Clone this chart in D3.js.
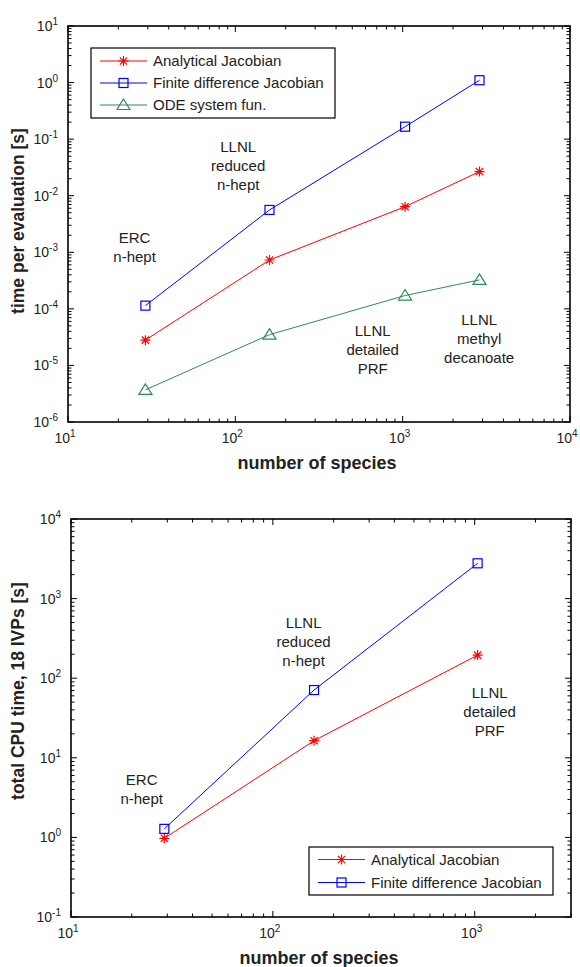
<!DOCTYPE html>
<html>
<head>
<meta charset="utf-8">
<script src="https://cdn.jsdelivr.net/npm/d3@7"></script>
<style>
  body { margin: 0; background: #fff; }
  svg text { font-family: "Liberation Sans", Arial, sans-serif; fill: #222; }
</style>
</head>
<body>
<div id="chart"></div>
<script>
// ---- data ----
const speciesTop = [29, 160, 1034, 2878]
const analyticalTop = [2.8e-5, 7.3e-4, 6.4e-3, 2.67e-2]
const finiteDiffTop = [1.14e-4, 5.6e-3, 0.166, 1.1]
const odeFunTop = [3.7e-6, 3.5e-5, 1.72e-4, 3.25e-4]

const speciesBottom = [29, 160, 1034]
const analyticalBottom = [0.975, 16.4, 195]
const finiteDiffBottom = [1.28, 71, 2775]

const seriesNames = ['Analytical Jacobian', 'Finite difference Jacobian', 'ODE system fun.']

// mechanism labels, anchored in data space (x species, y of first line)
const notesTop = [
    {lines: ['ERC', 'n-hept'], x: 25, y: 1.8e-3},
    {lines: ['LLNL', 'reduced', 'n-hept'], x: 104, y: 0.074},
    {lines: ['LLNL', 'detailed', 'PRF'], x: 662, y: 4.0e-5},
    {lines: ['LLNL', 'methyl', 'decanoate'], x: 2865, y: 6.4e-5}
]
const notesBottom = [
    {lines: ['ERC', 'n-hept'], x: 22.4, y: 5.3},
    {lines: ['LLNL', 'reduced', 'n-hept'], x: 142, y: 498},
    {lines: ['LLNL', 'detailed', 'PRF'], x: 1186, y: 64.6}
]

const colors = {analytical: '#ff0000', finite: '#0000ff', ode: '#2e8b57'}

const svg = d3.select('#chart').append('svg')
    .attr('width', 580)
    .attr('height', 967)

function drawMarker(g, type, x, y, color) {
    if (type === 'star') {
        const r = 5
        const d = 3.6
        g.append('path')
            .attr('d', `M${x - r},${y}L${x + r},${y}M${x},${y - r}L${x},${y + r}` +
                `M${x - d},${y - d}L${x + d},${y + d}M${x - d},${y + d}L${x + d},${y - d}`)
            .attr('stroke', color).attr('stroke-width', 1.2).attr('fill', 'none')
    } else if (type === 'square') {
        g.append('rect')
            .attr('x', x - 4.5).attr('y', y - 4.5)
            .attr('width', 9).attr('height', 9)
            .attr('stroke', color).attr('stroke-width', 1.2).attr('fill', 'none')
    } else {
        g.append('path')
            .attr('d', `M${x},${y - 6}L${x + 6.5},${y + 4.5}L${x - 6.5},${y + 4.5}Z`)
            .attr('stroke', color).attr('stroke-width', 1.2).attr('fill', 'none')
    }
}

function powLabel(sel, exp) {
    sel.append('tspan').text('10')
    sel.append('tspan').attr('dy', -6).attr('font-size', 10).text(exp)
}

function drawPanel(cfg) {
    const x = d3.scaleLog().domain(cfg.xDomain).range([cfg.left, cfg.right])
    const y = d3.scaleLog().domain(cfg.yDomain).range([cfg.bottom, cfg.top])
    const g = svg.append('g')

    // minor / major ticks on all four sides, pointing inward
    const xTicks = x.ticks().filter(v => v >= cfg.xDomain[0] && v <= cfg.xDomain[1])
    xTicks.forEach(v => {
        const major = Math.abs(Math.log10(v) - Math.round(Math.log10(v))) < 1e-9
        const len = major ? 6 : 3.5
        const px = x(v)
        g.append('line').attr('x1', px).attr('x2', px).attr('y1', cfg.bottom).attr('y2', cfg.bottom - len)
            .attr('stroke', '#000')
        g.append('line').attr('x1', px).attr('x2', px).attr('y1', cfg.top).attr('y2', cfg.top + len)
            .attr('stroke', '#000')
        if (major) {
            const t = g.append('text')
                .attr('x', px - 3).attr('y', cfg.bottom + 21)
                .attr('text-anchor', 'middle').attr('font-size', 14)
            powLabel(t, Math.round(Math.log10(v)))
        }
    })
    const yTicks = y.ticks().filter(v => v >= cfg.yDomain[0] && v <= cfg.yDomain[1])
    yTicks.forEach(v => {
        const major = Math.abs(Math.log10(v) - Math.round(Math.log10(v))) < 1e-9
        const len = major ? 6 : 3.5
        const py = y(v)
        g.append('line').attr('x1', cfg.left).attr('x2', cfg.left + len).attr('y1', py).attr('y2', py)
            .attr('stroke', '#000')
        g.append('line').attr('x1', cfg.right).attr('x2', cfg.right - len).attr('y1', py).attr('y2', py)
            .attr('stroke', '#000')
        if (major) {
            const t = g.append('text')
                .attr('x', cfg.left - 10).attr('y', py + 5)
                .attr('text-anchor', 'end').attr('font-size', 14)
            powLabel(t, Math.round(Math.log10(v)))
        }
    })

    g.append('rect')
        .attr('x', cfg.left).attr('y', cfg.top)
        .attr('width', cfg.right - cfg.left).attr('height', cfg.bottom - cfg.top)
        .attr('fill', 'none').attr('stroke', '#000').attr('stroke-width', 1.6)

    // axis titles
    g.append('text')
        .attr('x', (cfg.left + cfg.right) / 2 - 2).attr('y', cfg.bottom + 47)
        .attr('text-anchor', 'middle').attr('font-size', 18).attr('font-weight', 'bold')
        .attr('fill', '#000')
        .text('number of species')
    g.append('text')
        .attr('transform', `translate(${cfg.yTitleX},${cfg.yTitleY}) rotate(-90)`)
        .attr('text-anchor', 'middle').attr('font-size', 17.5).attr('font-weight', 'bold')
        .attr('fill', '#000')
        .text(cfg.yTitle)

    // annotations
    cfg.notes.forEach(n => {
        const t = g.append('text')
            .attr('text-anchor', 'middle').attr('font-size', 15)
        n.lines.forEach((s, i) => {
            t.append('tspan').attr('x', x(n.x)).attr('y', y(n.y) + 5 + i * 19).text(s)
        })
    })

    // series
    const line = d3.line().x(d => x(d[0])).y(d => y(d[1]))
    cfg.series.forEach(s => {
        const pts = cfg.species.map((v, i) => [v, s.values[i]])
        g.append('path').attr('d', line(pts))
            .attr('fill', 'none').attr('stroke', s.color).attr('stroke-width', 1)
        pts.forEach(p => drawMarker(g, s.marker, x(p[0]), y(p[1]), s.color))
    })

    // legend
    const L = cfg.legend
    const lg = g.append('g')
    lg.append('rect')
        .attr('x', L.x).attr('y', L.y).attr('width', L.w).attr('height', L.h)
        .attr('fill', '#fff').attr('stroke', '#000').attr('stroke-width', 1.2)
    cfg.series.forEach((s, i) => {
        const ly = L.y + L.first + i * L.step
        lg.append('line')
            .attr('x1', L.x + 9).attr('x2', L.x + 56).attr('y1', ly).attr('y2', ly)
            .attr('stroke', s.color).attr('stroke-width', 1)
        drawMarker(lg, s.marker, L.x + 32.5, ly, s.color)
        lg.append('text')
            .attr('x', L.x + 62).attr('y', ly + 5)
            .attr('font-size', 15)
            .text(s.name)
    })
}

drawPanel({
    left: 68, right: 570, top: 26, bottom: 422,
    xDomain: [10, 1e4], yDomain: [1e-6, 10],
    yTitle: 'time per evaluation [s]', yTitleX: 24, yTitleY: 221,
    species: speciesTop,
    series: [
        {name: seriesNames[0], values: analyticalTop, color: colors.analytical, marker: 'star'},
        {name: seriesNames[1], values: finiteDiffTop, color: colors.finite, marker: 'square'},
        {name: seriesNames[2], values: odeFunTop, color: colors.ode, marker: 'tri'}
    ],
    notes: notesTop,
    legend: {x: 91, y: 48, w: 244, h: 70, first: 13, step: 22}
})

drawPanel({
    left: 71, right: 571, top: 519, bottom: 917,
    xDomain: [10, 3000], yDomain: [0.1, 1e4],
    yTitle: 'total CPU time, 18 IVPs [s]', yTitleX: 24, yTitleY: 691,
    species: speciesBottom,
    series: [
        {name: seriesNames[0], values: analyticalBottom, color: colors.analytical, marker: 'star'},
        {name: seriesNames[1], values: finiteDiffBottom, color: colors.finite, marker: 'square'}
    ],
    notes: notesBottom,
    legend: {x: 309, y: 847, w: 244, h: 48, first: 12.5, step: 23}
})
</script>
</body>
</html>
